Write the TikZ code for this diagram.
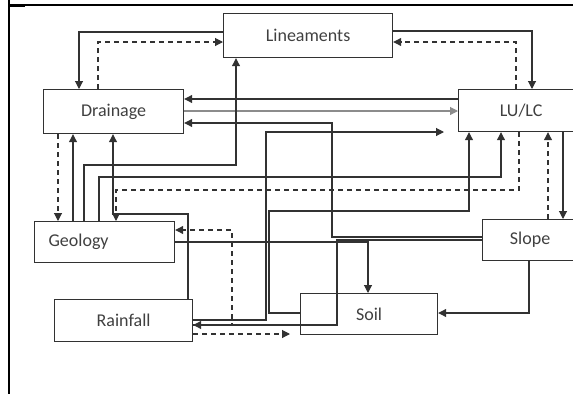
\documentclass[tikz,border=0pt]{standalone}
\usepackage{fontspec}
\setmainfont{Carlito}
\usetikzlibrary{arrows.meta}
\definecolor{dgline}{RGB}{50,50,50}
\definecolor{dgtext}{RGB}{64,64,64}
\definecolor{ltline}{RGB}{140,140,140}

\begin{document}
\begin{tikzpicture}[x=1pt,y=-1pt,
  box/.style={draw=dgline, line width=1.2pt, rectangle, inner sep=0pt, anchor=north west,
    text=dgtext, font=\fontsize{18}{20}\selectfont},
  link/.style={draw=dgline, line width=1.1pt, -{Triangle[length=8pt,width=8pt]}},
  dlink/.style={link, dash pattern=on 5pt off 4pt}]
  \useasboundingbox (0,0) rectangle (573,394);
  \clip (0,0) rectangle (573,394);
  % Table borders
  \draw[line width=1.2pt] (9,5) -- (573,5);
  \draw[line width=2pt] (9,0) -- (9,394);
  \draw[line width=1.4pt] (9,6.5) -- (25,6.5);
  % Boxes
  \node[box, minimum width=169pt, minimum height=44pt] (lin) at (223,13) {Lineaments};
  \node[box, minimum width=140pt, minimum height=44pt] (drain) at (43,89) {Drainage};
  \node[box, minimum width=125pt, minimum height=42pt] (lulc) at (458,89) {LU/LC};
  \node[box, inner xsep=14pt, text width=112pt, align=left, minimum height=41pt] (geol) at (34,221) {Geology};
  \node[box, minimum width=138pt, minimum height=42pt] (rain) at (54,299) {Rainfall};
  \node[box, minimum width=137pt, minimum height=41pt] (soil) at (300,293) {Soil};
  \node[box, minimum width=95pt, minimum height=41pt] (slope) at (482,219) {Slope};
  \coordinate (rainend) at (444,132);
  \coordinate (soilend) at (290,334);
  % Lineaments links
  \draw[link] (lin.west |- 0,32) -| (drain.north -| 79,0);
  \draw[dlink] (drain.north -| 98,0) |- (lin.west |- 0,42);
  \draw[link] (lin.east |- 0,31) -| (lulc.north -| 532,0);
  \draw[dlink] (lulc.north -| 516,0) |- (lin.east |- 0,42);
  % Drainage links
  \draw[link] (lulc.west |- 0,99) -- (drain.east |- 0,99);
  \draw[link, draw=ltline] (drain.east |- 0,111) -- (lulc.west |- 0,111);
  \draw[link] (slope.west |- 0,237) -| (332,123) -- (drain.east |- 0,123);
  \draw[dlink] (drain.south -| 58,0) -- (geol.north -| 58,0);
  \draw[link] (geol.north -| 73,0) -- (drain.south -| 73,0);
  \draw[link] (rain.north -| 188,0) |- (113,214) -- (drain.south -| 113,0);
  % Geology links
  \draw[link] (geol.north -| 84,0) |- (236,165) -- (lin.south -| 236,0);
  \draw[link] (geol.north -| 99,0) |- (501,177) -- (lulc.south -| 501,0);
  \draw[dlink] (lulc.south -| 519,0) |- (116,190) -- (geol.north -| 116,0);
  \draw[link] (geol.east |- 0,242) -| (soil.north -| 368,0);
  % Rainfall links
  \draw[link] (rain.east |- 0,320) -| (266,132) -- (rainend);
  \draw[dlink] (rain.east |- 0,325) -| (232,230) -- (geol.east |- 0,230);
  \draw[dlink] (rain.east |- 0,334) -- (soilend);
  % Soil and Slope links
  \draw[link] (soil.west |- 0,313) -| (269,211) -| (lulc.south -| 469,0);
  \draw[link] (slope.west |- 0,240) -| (337,325) -- (rain.east |- 0,325);
  \draw[link] (slope.south -| 529,0) |- (soil.east |- 0,313);
  \draw[link] (lulc.south -| 563,0) -- (slope.north -| 563,0);
  \draw[dlink] (slope.north -| 548,0) -- (lulc.south -| 548,0);
\end{tikzpicture}
\end{document}
